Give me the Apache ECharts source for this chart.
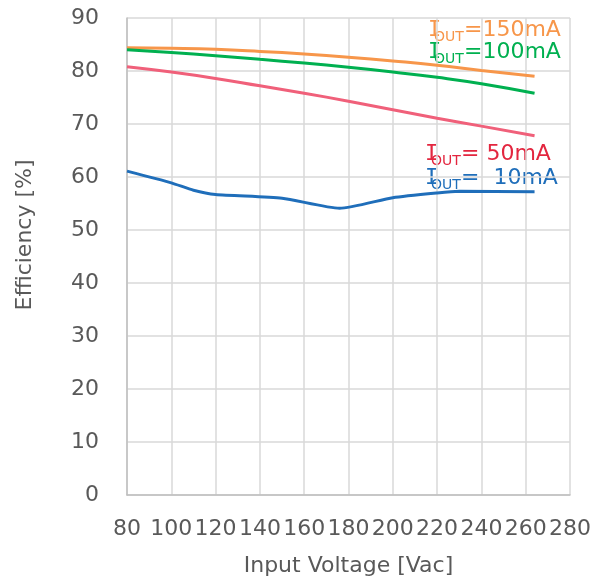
<!DOCTYPE html>
<html><head><meta charset="utf-8">
<script src="https://cdn.jsdelivr.net/npm/echarts@6/dist/echarts.min.js"></script>
<style>html,body{margin:0;padding:0;background:#fff}#c{width:597px;height:586px}</style>
</head><body><div id="c"></div>
<script>
const voltage = [80, 100, 120, 140, 160, 180, 200, 220, 240, 264];
const eff150 = [84.4, 84.3, 84.1, 83.7, 83.2, 82.6, 81.9, 81.1, 80.1, 79.0];
const eff100 = [84.0, 83.5, 82.9, 82.2, 81.5, 80.7, 79.8, 78.8, 77.6, 75.8];
const eff50  = [80.8, 79.8, 78.6, 77.2, 75.8, 74.3, 72.7, 71.1, 69.6, 67.8];
const v10    = [80, 100, 110, 120, 150, 176, 200, 220, 230, 264];
const eff10  = [61.1, 58.9, 57.5, 56.7, 56.0, 54.1, 56.1, 57.0, 57.3, 57.2];
const xTicks = [80, 100, 120, 140, 160, 180, 200, 220, 240, 260, 280];
const yTicks = [0, 10, 20, 30, 40, 50, 60, 70, 80, 90];
const seriesLabels = ['=150mA', '=100mA', '= 50mA', '=  10mA'];

const FONT = 'DejaVu Sans';
const GRAY = '#595959';
function pairs(xs, ys){ return xs.map((x,i)=>[x, ys[i]]); }
function seriesLabel(x, baseline, rest, color){
  return [
    {type: 'text', x: x, y: baseline - 6.5, style: {text: 'I', font: '22px "DejaVu Sans Mono"', fill: color, verticalAlign: 'middle', align: 'left'}},
    {type: 'text', x: x + 6, y: baseline + 5 - 4.2, style: {text: 'OUT', font: '14px "DejaVu Sans"', fill: color, verticalAlign: 'middle', align: 'left'}},
    {type: 'text', x: x + 36, y: baseline - 6.5, style: {text: rest, font: '22px "DejaVu Sans"', fill: color, verticalAlign: 'middle', align: 'left'}}
  ];
}
const chart = echarts.init(document.getElementById('c'));
chart.setOption({
  animation: false,
  grid: {left: 127, right: 27, top: 18, bottom: 91},
  xAxis: {
    type: 'value', min: 80, max: 280, interval: 20,
    name: 'Input Voltage [Vac]', nameLocation: 'middle', nameGap: 60,
    nameTextStyle: {fontSize: 22, color: GRAY, fontFamily: FONT},
    axisLine: {show: true, lineStyle: {color: '#bfbfbf', width: 1.5}},
    axisTick: {show: false},
    axisLabel: {fontSize: 22, color: GRAY, fontFamily: FONT, margin: 23,
      formatter: v => xTicks.includes(v) ? String(v) : ''},
    splitLine: {show: true, lineStyle: {color: '#d9d9d9', width: 1.5}}
  },
  yAxis: {
    type: 'value', min: 0, max: 90, interval: 10,
    axisLine: {show: true, lineStyle: {color: '#bfbfbf', width: 1.5}},
    axisTick: {show: false},
    axisLabel: {fontSize: 22, color: GRAY, fontFamily: FONT, margin: 28,
      formatter: v => yTicks.includes(v) ? String(v) : ''},
    splitLine: {show: true, lineStyle: {color: '#d9d9d9', width: 1.5}}
  },
  series: [
    {type: 'line', data: pairs(voltage, eff150), smooth: true, symbol: 'none', lineStyle: {color: '#F7964A', width: 3}},
    {type: 'line', data: pairs(voltage, eff100), smooth: true, symbol: 'none', lineStyle: {color: '#00B050', width: 3}},
    {type: 'line', data: pairs(voltage, eff50), smooth: true, symbol: 'none', lineStyle: {color: '#F0607A', width: 3}},
    {type: 'line', data: pairs(v10, eff10), smooth: 0.2, symbol: 'none', lineStyle: {color: '#1F6EBA', width: 3}}
  ],
  graphic: [
    {type: 'text', x: 25, y: 235, rotation: Math.PI / 2,
      style: {text: 'Efficiency [%]', font: '22px "DejaVu Sans"', fill: GRAY, align: 'center', verticalAlign: 'middle'}},
    ...seriesLabel(428, 36.7, seriesLabels[0], '#F7964A'),
    ...seriesLabel(428, 58.3, seriesLabels[1], '#00B050'),
    ...seriesLabel(425, 161, seriesLabels[2], '#E3263F'),
    ...seriesLabel(425, 185, seriesLabels[3], '#1F6EBA')
  ]
});
</script></body></html>
